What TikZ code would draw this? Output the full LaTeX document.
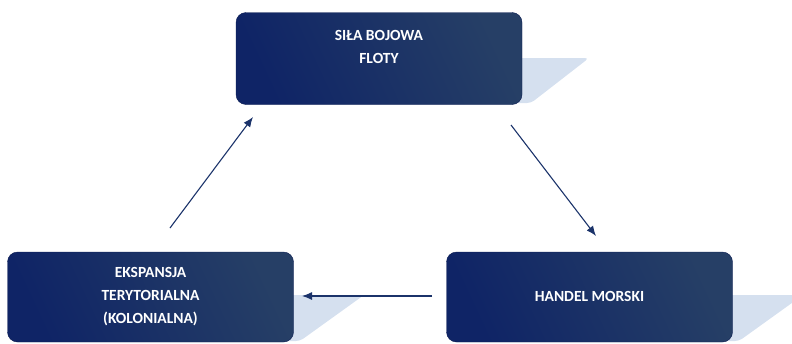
\documentclass[tikz,border=0pt]{standalone}
\usepackage{fontspec}
\setmainfont{Carlito}
\usetikzlibrary{arrows.meta}
\definecolor{boxA}{HTML}{0F2466}
\definecolor{boxB}{HTML}{263F66}
\definecolor{shad}{HTML}{D5E0EF}
\definecolor{arr}{HTML}{1B336A}
\tikzset{
  boxnode/.style={rounded corners=10pt, minimum width=286pt, minimum height=92pt,
    inner sep=0pt, left color=boxA, right color=boxB, shading angle=115,
    draw=boxA!80!black, line width=0.4pt},
  lbl/.style={text=white, font=\fontsize{15.5}{23}\selectfont\bfseries, align=center, inner sep=0pt},
  shadowpoly/.style={fill=shad, rounded corners=4pt},
  conn/.style={draw=arr, line width=1.1pt, -{Latex[length=10pt,width=8pt]}}
}
\begin{document}
\begin{tikzpicture}[x=1pt,y=-1pt]
\useasboundingbox (0,0) rectangle (792,343);
\begin{scope}
\clip (0,0) rectangle (792,343);
% shadows
\fill[shadowpoly] (300,58) -- (589,58) -- (531,103) -- (240,103) -- cycle;
\fill[shadowpoly] (70,295) -- (364,295) -- (300,341) -- (12,341) -- cycle;
\fill[shadowpoly] (509,295) -- (803,295) -- (739,341) -- (451,341) -- cycle;
% boxes
\node[boxnode] (top) at (379,58.5) {};
\node[boxnode, minimum height=90pt] (bl) at (150.5,297) {};
\node[boxnode, minimum height=90pt] (br) at (589.5,297) {};
\end{scope}
% labels
\node[lbl] (ttop) at (379,46.5) {SIŁA BOJOWA\\FLOTY};
\node[lbl] (tbl) at (150.5,297) {EKSPANSJA\\TERYTORIALNA\\(KOLONIALNA)};
\node[lbl] (tbr) at (589.5,296) {HANDEL MORSKI};
% connectors
\coordinate (a1s) at (170,228);
\coordinate (a1e) at (253,117);
\coordinate (a2s) at (511,125);
\coordinate (a2e) at (596,236);
\coordinate (a3s) at (432,296);
\coordinate (a3e) at (302,296);
\draw[conn] (a1s) -- (a1e);
\draw[conn] (a2s) -- (a2e);
\draw[conn] (a3s) -- (a3e);
\end{tikzpicture}
\end{document}
